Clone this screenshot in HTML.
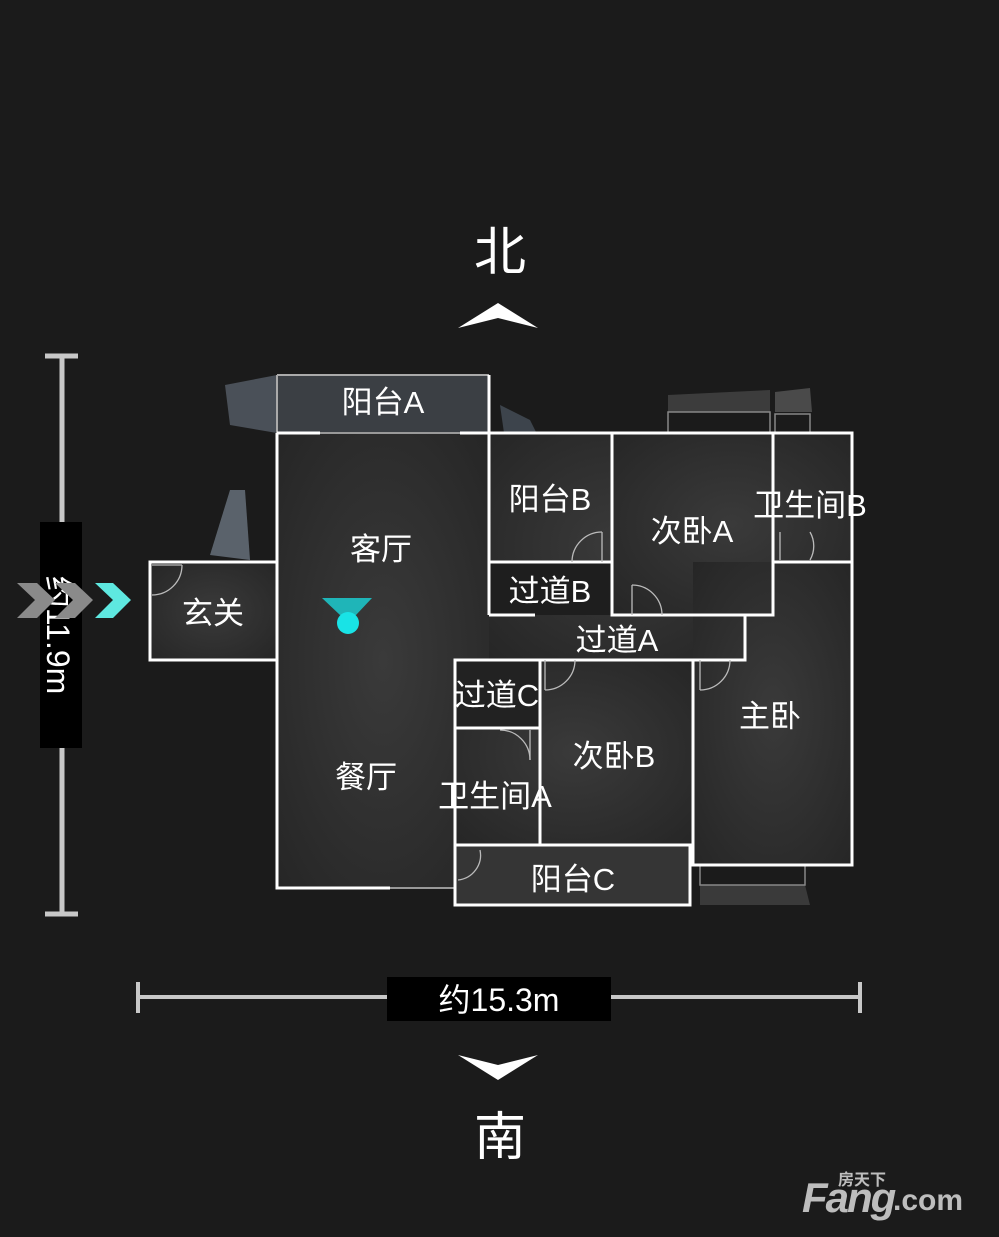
<!DOCTYPE html>
<html><head><meta charset="utf-8"><style>
html,body{margin:0;padding:0;background:#1b1b1b;}
svg{display:block}
text{font-family:"Liberation Sans","Noto Sans CJK SC",sans-serif;}
</style></head><body>
<svg width="999" height="1237" viewBox="0 0 999 1237" xmlns="http://www.w3.org/2000/svg">
<defs>
<radialGradient id="fl" cx="50%" cy="50%" r="70%">
<stop offset="0" stop-color="#3a3a3a"/><stop offset="1" stop-color="#262626"/>
</radialGradient>
</defs>
<rect width="999" height="1237" fill="#1b1b1b"/>

<polygon points="225,385 277,375 277,433 230,425" fill="#4a5058"/>
<polygon points="210,555 230,490 245,490 250,560" fill="#5a626b"/>
<polygon points="500,405 530,420 540,440 505,440" fill="#3d444c"/>
<polygon points="668,395 770,390 770,412 668,412" fill="#3c3c3c"/>
<polygon points="775,392 810,388 812,412 775,412" fill="#4a4a4a"/>
<polygon points="700,885 805,885 810,905 700,905" fill="#3a3a3a"/>

<g fill="url(#fl)">
<rect x="277" y="375" width="212" height="58" fill="#3b3f44"/>
<rect x="277" y="433" width="212" height="455"/>
<rect x="489" y="433" width="256" height="227"/>
<rect x="612" y="433" width="240" height="182"/>
<rect x="693" y="562" width="159" height="303"/>
<rect x="455" y="660" width="238" height="185"/>
<rect x="455" y="845" width="235" height="60" fill="#353535"/>
<rect x="150" y="562" width="127" height="98"/>
</g>
<rect x="489" y="562" width="123" height="53" fill="#1e1e1e"/>
<rect x="455" y="660" width="85" height="68" fill="#222"/>
<rect x="668" y="412" width="102" height="21" fill="none" stroke="#888" stroke-width="1.5"/>
<rect x="775" y="414" width="35" height="19" fill="none" stroke="#888" stroke-width="1.5"/>
<rect x="700" y="865" width="105" height="20" fill="none" stroke="#888" stroke-width="1.5"/>

<g stroke="#fff" stroke-width="3" fill="none">
<polyline points="277,375 489,375" stroke="#aaa" stroke-width="2"/>
<line x1="277" y1="375" x2="277" y2="433" stroke="#aaa" stroke-width="2"/>
<line x1="489" y1="375" x2="489" y2="433"/>
<line x1="277" y1="433" x2="320" y2="433"/>
<line x1="320" y1="433" x2="460" y2="433" stroke="#999" stroke-width="2"/>
<line x1="460" y1="433" x2="612" y2="433"/>
<polyline points="277,433 277,888 390,888"/>
<line x1="390" y1="888" x2="455" y2="888" stroke="#999" stroke-width="2"/>
<line x1="489" y1="433" x2="489" y2="615"/>
<line x1="489" y1="562" x2="612" y2="562"/>
<line x1="489" y1="615" x2="535" y2="615"/>
<rect x="612" y="433" width="161" height="182"/>
<polyline points="773,433 852,433 852,865 693,865 693,660"/>
<line x1="773" y1="562" x2="852" y2="562"/>
<polyline points="745,615 745,660 540,660"/>
<rect x="455" y="660" width="85" height="185"/>
<line x1="455" y1="728" x2="540" y2="728"/>
<line x1="540" y1="660" x2="540" y2="845"/>
<line x1="540" y1="845" x2="693" y2="845"/>
<polyline points="455,845 455,905 690,905 690,845"/>
<polyline points="277,562 150,562 150,660 277,660" />
</g>
<g stroke="#bbb" stroke-width="1.3" fill="none">
<path d="M602,532 A30,30 0 0 0 572,562"/><line x1="602" y1="532" x2="602" y2="562"/>
<path d="M810,532 A28,28 0 0 1 810,560"/><line x1="780" y1="532" x2="780" y2="560"/>
<path d="M632,585 A30,30 0 0 1 662,615"/><line x1="632" y1="585" x2="632" y2="615"/>
<path d="M182,565 A30,30 0 0 1 152,595"/><line x1="152" y1="565" x2="182" y2="565"/>
<path d="M545,690 A30,30 0 0 0 575,660"/><line x1="545" y1="660" x2="545" y2="690"/>
<path d="M700,690 A30,30 0 0 0 730,660"/><line x1="700" y1="660" x2="700" y2="690"/>
<path d="M500,730 A30,30 0 0 1 530,760"/><line x1="530" y1="730" x2="530" y2="760"/>
<path d="M458,880 A25,25 0 0 0 480,850"/>
</g>

<g fill="#fff" font-size="31" text-anchor="middle">
<text x="383" y="413">阳台A</text>
<text x="381" y="560">客厅</text>
<text x="550" y="510">阳台B</text>
<text x="550" y="602">过道B</text>
<text x="692" y="542">次卧A</text>
<text x="810" y="516">卫生间B</text>
<text x="213" y="624">玄关</text>
<text x="617" y="651">过道A</text>
<text x="497" y="706">过道C</text>
<text x="770" y="727">主卧</text>
<text x="614" y="767">次卧B</text>
<text x="366" y="788">餐厅</text>
<text x="495" y="807">卫生间A</text>
<text x="573" y="890">阳台C</text>
</g>

<polygon points="322,598 372,598 356,615 340,615" fill="#1fb5b8"/>
<circle cx="348" cy="623" r="11" fill="#19e3e6"/>

<text x="500" y="270" font-size="52" fill="#fff" text-anchor="middle">北</text>
<polygon points="458,328 498,303 538,328 498,318" fill="#fff"/>
<polygon points="458,1055 498,1080 538,1055 498,1065" fill="#fff"/>
<text x="500" y="1155" font-size="52" fill="#fff" text-anchor="middle">南</text>

<g stroke="#c8c8c8" stroke-width="5">
<line x1="62" y1="356" x2="62" y2="522"/>
<line x1="62" y1="748" x2="62" y2="914"/>
<line x1="45" y1="356" x2="78" y2="356"/>
<line x1="45" y1="914" x2="78" y2="914"/>
</g>
<rect x="40" y="522" width="42" height="226" fill="#000"/>
<text transform="translate(47,635) rotate(90)" font-size="32" fill="#fff" text-anchor="middle">约11.9m</text>
<polygon points="17,583 37,583 55,600 37,618 17,618 35,600" fill="#8a8a8a"/>
<polygon points="55,583 75,583 93,600 75,618 55,618 73,600" fill="#8a8a8a"/>
<polygon points="95,583 113,583 131,600 113,618 95,618 113,600" fill="#5ee8e0"/>

<g stroke="#c8c8c8" stroke-width="4">
<line x1="138" y1="997" x2="387" y2="997"/>
<line x1="611" y1="997" x2="860" y2="997"/>
<line x1="138" y1="982" x2="138" y2="1013"/>
<line x1="860" y1="982" x2="860" y2="1013"/>
</g>
<rect x="387" y="977" width="224" height="44" fill="#000"/>
<text x="499" y="1011" font-size="32" fill="#fff" text-anchor="middle">约15.3m</text>

<text x="838" y="1185" font-size="16" font-weight="bold" fill="#bdbdbd">房天下</text>
<text x="802" y="1212" font-size="42" font-weight="bold" fill="#bdbdbd" font-style="italic" letter-spacing="-2">Fang</text>
<text x="893" y="1210" font-size="30" font-weight="bold" fill="#bdbdbd">.com</text>
</svg>
</body></html>
